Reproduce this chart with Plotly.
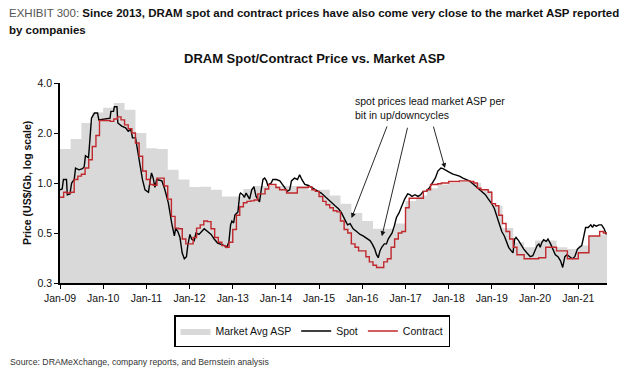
import math
import plotly.graph_objects as go
import pandas as pd

# ---------------- data ----------------
# Market average ASP (US$/Gb), quarterly, Q1'09 .. Q3'21
asp_start = "2009Q1"
asp_values = [
    1.60, 1.84, 2.30, 2.66,
    2.84, 3.03, 2.76, 2.00,
    1.62, 1.60, 1.20, 1.05,
    0.945, 0.95, 0.91, 0.83,
    0.83, 0.92, 0.96, 0.96,
    0.96, 0.96, 0.96, 0.91,
    0.91, 0.84, 0.75, 0.66,
    0.59, 0.53, 0.53, 0.57,
    0.78, 0.84, 0.93, 0.98,
    1.00, 1.02, 1.00, 0.90,
    0.73, 0.535, 0.44, 0.41,
    0.45, 0.45, 0.41, 0.40,
    0.42, 0.48, 0.49,
]

# Contract price (US$/Gb), monthly, Jan-09 .. Aug-21
contract_start = "2009-01-01"
contract_values = [
    0.82, 0.88, 0.87, 0.88, 1.05, 1.10, 1.13, 1.23, 1.38, 1.66, 1.93, 2.38,
    2.38, 2.38, 2.35, 2.43, 2.50, 2.40, 2.24, 2.12, 2.00, 1.74, 1.45, 1.18,
    1.05, 0.98, 0.97, 1.07, 1.07, 0.96, 0.80, 0.63, 0.535, 0.53, 0.46, 0.43,
    0.43, 0.47, 0.535, 0.56, 0.59, 0.585, 0.53, 0.47, 0.44, 0.42, 0.41, 0.44,
    0.525, 0.64, 0.72, 0.76, 0.775, 0.78, 0.79, 0.86, 0.86, 0.92, 0.98, 0.98,
    0.94, 0.91, 0.91, 0.87, 0.87, 0.87, 0.94, 0.94, 0.94, 0.95, 0.91, 0.89,
    0.83, 0.775, 0.74, 0.71, 0.68, 0.67, 0.59, 0.525, 0.50, 0.43, 0.41, 0.39,
    0.39, 0.36, 0.335, 0.32, 0.31, 0.31, 0.335, 0.35, 0.41, 0.46, 0.50, 0.51,
    0.71, 0.81, 0.81, 0.81, 0.81, 0.89, 0.91, 0.98, 0.98, 0.99, 1.00, 1.00,
    1.02, 1.02, 1.02, 1.03, 1.03, 1.03, 1.02, 1.00, 0.93, 0.91, 0.91, 0.88,
    0.75, 0.73, 0.64, 0.57, 0.51, 0.46, 0.41, 0.37, 0.37, 0.35, 0.35, 0.35,
    0.35, 0.355, 0.355, 0.41, 0.41, 0.41, 0.39, 0.39, 0.39, 0.35, 0.35, 0.35,
    0.38, 0.38, 0.38, 0.48, 0.48, 0.48, 0.51, 0.50,
]

# Spot price (US$/Gb); time as decimal year
spot_time = [
    2009.00, 2009.05, 2009.08, 2009.15, 2009.17, 2009.23, 2009.27, 2009.33, 2009.36, 2009.44,
    2009.52, 2009.56, 2009.59, 2009.66, 2009.69, 2009.73, 2009.80, 2009.87, 2009.90, 2010.04,
    2010.16, 2010.18, 2010.24, 2010.26, 2010.32, 2010.34, 2010.43, 2010.52, 2010.58, 2010.64,
    2010.68, 2010.75, 2010.80, 2010.85, 2010.91, 2010.97, 2011.05, 2011.08, 2011.12, 2011.16,
    2011.20, 2011.24, 2011.36, 2011.43, 2011.51, 2011.59, 2011.63, 2011.65, 2011.68, 2011.73,
    2011.78, 2011.83, 2011.88, 2011.93, 2011.96, 2012.01, 2012.05, 2012.11, 2012.15, 2012.22,
    2012.34, 2012.42, 2012.50, 2012.57, 2012.65, 2012.81, 2012.86, 2012.91, 2012.95, 2012.98,
    2013.02, 2013.05, 2013.12, 2013.16, 2013.18, 2013.23, 2013.27, 2013.31, 2013.39, 2013.44,
    2013.49, 2013.54, 2013.62, 2013.66, 2013.70, 2013.74, 2013.78, 2013.81, 2013.89, 2013.93,
    2014.01, 2014.09, 2014.14, 2014.20, 2014.26, 2014.32, 2014.36, 2014.43, 2014.50, 2014.55,
    2014.60, 2014.67, 2014.74, 2014.82, 2014.90, 2014.98, 2015.05, 2015.13, 2015.21, 2015.29,
    2015.37, 2015.45, 2015.52, 2015.60, 2015.66, 2015.72, 2015.79, 2015.87, 2015.95, 2016.02,
    2016.10, 2016.18, 2016.23, 2016.29, 2016.33, 2016.37, 2016.41, 2016.45, 2016.51, 2016.56,
    2016.60, 2016.64, 2016.69, 2016.74, 2016.79, 2016.85, 2016.91, 2016.98, 2017.05, 2017.10,
    2017.15, 2017.22, 2017.29, 2017.35, 2017.41, 2017.48, 2017.56, 2017.64, 2017.69, 2017.75,
    2017.82, 2017.87, 2017.95, 2018.02, 2018.10, 2018.18, 2018.25, 2018.33, 2018.41, 2018.48,
    2018.56, 2018.64, 2018.72, 2018.77, 2018.85, 2018.92, 2019.00, 2019.06, 2019.12, 2019.17,
    2019.23, 2019.29, 2019.35, 2019.39, 2019.45, 2019.49, 2019.53, 2019.56, 2019.62, 2019.68,
    2019.74, 2019.81, 2019.89, 2019.95, 2019.99, 2020.05, 2020.09, 2020.12, 2020.16, 2020.20,
    2020.26, 2020.30, 2020.36, 2020.41, 2020.47, 2020.53, 2020.59, 2020.64, 2020.69, 2020.74,
    2020.80, 2020.86, 2020.92, 2020.98, 2021.03, 2021.08, 2021.13, 2021.17, 2021.23, 2021.29,
    2021.33, 2021.36, 2021.42, 2021.48, 2021.54, 2021.60, 2021.65,
]
spot_values = [
    0.91, 0.92, 1.05, 1.05, 0.85, 0.86, 1.00, 1.05, 1.23, 1.20,
    1.22, 1.25, 1.46, 1.42, 1.78, 2.46, 2.64, 2.64, 2.40, 2.42,
    2.46, 2.70, 2.70, 2.88, 2.88, 2.30, 2.20, 2.15, 2.05, 2.10,
    1.87, 1.87, 1.55, 1.26, 1.05, 0.91, 0.88, 1.00, 1.15, 1.07,
    0.94, 1.05, 1.03, 0.91, 0.76, 0.57, 0.50, 0.48, 0.535, 0.51,
    0.47, 0.38, 0.35, 0.36, 0.42, 0.49, 0.46, 0.45, 0.50, 0.49,
    0.53, 0.51, 0.49, 0.46, 0.435, 0.42, 0.41, 0.44, 0.56, 0.59,
    0.575, 0.64, 0.67, 0.85, 0.87, 0.85, 0.82, 0.87, 0.80, 0.91,
    0.95, 0.83, 0.77, 0.91, 1.05, 1.07, 1.03, 0.97, 1.00, 1.05,
    1.05, 1.03, 0.98, 0.94, 0.89, 0.91, 1.03, 1.07, 1.05, 1.12,
    1.05, 0.98, 0.97, 0.94, 0.91, 0.89, 0.87, 0.83, 0.80, 0.76,
    0.73, 0.70, 0.66, 0.60, 0.56, 0.57, 0.53, 0.51, 0.49, 0.48,
    0.465, 0.45, 0.43, 0.40, 0.37, 0.355, 0.39, 0.41, 0.43, 0.43,
    0.46, 0.48, 0.50, 0.55, 0.62, 0.66, 0.72, 0.80, 0.86, 0.85,
    0.83, 0.85, 0.83, 0.85, 0.89, 0.89, 0.94, 1.03, 1.07, 1.18,
    1.23, 1.22, 1.18, 1.16, 1.13, 1.12, 1.10, 1.07, 1.05, 1.03,
    0.99, 0.95, 0.91, 0.89, 0.85, 0.80, 0.75, 0.70, 0.62, 0.56,
    0.51, 0.48, 0.44, 0.41, 0.39, 0.38, 0.46, 0.47, 0.45, 0.42,
    0.40, 0.38, 0.36, 0.365, 0.39, 0.42, 0.43, 0.41, 0.44, 0.455,
    0.445, 0.46, 0.43, 0.40, 0.37, 0.36, 0.34, 0.31, 0.36, 0.37,
    0.36, 0.35, 0.36, 0.40, 0.41, 0.42, 0.48, 0.54, 0.54, 0.56,
    0.54, 0.56, 0.55, 0.56, 0.56, 0.53, 0.49,
]

# axis
y_tickvals = [0.25, 0.5, 1.0, 2.0, 4.0]
y_ticktext = ["0.3", "0.5", "1.0", "2.0", "4.0"]
x_tickyears = list(range(2009, 2022))
x_range = ["2009-01-01", "2021-09-01"]

# ---------------- helpers ----------------
def dec_to_date(t):
    y = int(t)
    start = pd.Timestamp(year=y, month=1, day=1)
    end = pd.Timestamp(year=y + 1, month=1, day=1)
    return start + (end - start) * (t - y)

asp_q = pd.period_range(asp_start, periods=len(asp_values), freq="Q")
asp_x = [p.start_time for p in asp_q] + [(asp_q[-1] + 1).start_time]
asp_y = asp_values + [asp_values[-1]]

con_m = pd.date_range(contract_start, periods=len(contract_values) + 1, freq="MS")
con_x = list(con_m)
con_y = contract_values + [contract_values[-1]]

spot_x = [dec_to_date(t) for t in spot_time]

FONT = "Liberation Sans, Arial, sans-serif"

fig = go.Figure()
fig.add_trace(go.Scatter(
    x=asp_x, y=asp_y, mode="lines", line=dict(width=0, shape="hv"),
    fill="tozeroy", fillcolor="#d9d9d9", name="Market Avg ASP", hoverinfo="skip"))
fig.add_trace(go.Scatter(
    x=spot_x, y=spot_values, mode="lines", line=dict(color="black", width=1.4),
    name="Spot"))
fig.add_trace(go.Scatter(
    x=con_x, y=con_y, mode="lines", line=dict(color="#c0282d", width=1.4, shape="hv"),
    name="Contract"))

# page body has an 8px margin: figure origin sits at screen (8, 8)
OFF = 8
W, H = 632, 368
L, R, T, B = 52, 33, 75, 93
pw, ph = W - L - R, H - T - B

def px(sx):
    return (sx - OFF - L) / pw

def py(sy):
    return (H - B - (sy - OFF)) / ph

annotations = [
    dict(x=px(7), y=py(13), xref="paper", yref="paper", xanchor="left", yanchor="middle",
         showarrow=False, align="left",
         text="<span style='color:#555'>EXHIBIT 300: </span><b>Since 2013, DRAM spot and contract prices have also come very close to the market ASP reported</b>",
         font=dict(family=FONT, size=11.5, color="#111")),
    dict(x=px(7), y=py(30), xref="paper", yref="paper", xanchor="left", yanchor="middle",
         showarrow=False, align="left", text="<b>by companies</b>",
         font=dict(family=FONT, size=11.5, color="#111")),
    dict(x=px(314), y=py(58), xref="paper", yref="paper", xanchor="center", yanchor="middle",
         showarrow=False, text="<b>DRAM Spot/Contract Price vs. Market ASP</b>",
         font=dict(family=FONT, size=13, color="#111")),
    dict(x=px(27), y=0.5, xref="paper", yref="paper", xanchor="center", yanchor="middle",
         showarrow=False, textangle=-90, text="<b>Price (US$/Gb, log scale)</b>",
         font=dict(family=FONT, size=10.5, color="#111")),
    dict(x=px(353), y=py(108.5), xref="paper", yref="paper", xanchor="left", yanchor="middle",
         showarrow=False, align="left",
         text="spot prices lead market ASP per<br>bit in up/downcycles",
         font=dict(family=FONT, size=10.5, color="#111")),
    dict(x=px(8), y=py(362), xref="paper", yref="paper", xanchor="left", yanchor="middle",
         showarrow=False, align="left",
         text="Source: DRAMeXchange, company reports, and Bernstein analysis",
         font=dict(family=FONT, size=8.7, color="#333")),
]

# arrows (head at data point, tail offset in pixels)
arrows = [
    ("2015-10-03", 0.616, 36, -93),
    ("2016-06-15", 0.478, 26, -110),
    ("2017-12-01", 1.23, -12, -43),
]
for ax_date, val, dx, dy in arrows:
    annotations.append(dict(
        x=ax_date, y=math.log10(val), xref="x", yref="y", text="", showarrow=True,
        arrowhead=2, arrowsize=1.1, arrowwidth=0.9, arrowcolor="#111",
        ax=dx, ay=dy, standoff=0))

fig.update_layout(
    width=W, height=H,
    margin=dict(l=L, r=R, t=T, b=B, pad=0),
    paper_bgcolor="white", plot_bgcolor="white",
    font=dict(family=FONT, size=10.5, color="#111"),
    showlegend=True,
    legend=dict(orientation="h", x=px(312), xanchor="center", y=py(315), yanchor="top",
                bordercolor="black", borderwidth=1.5, bgcolor="white",
                font=dict(family=FONT, size=10.5, color="#111"),
                traceorder="normal"),
    annotations=annotations,
)
fig.update_xaxes(
    type="date", range=x_range,
    tickvals=[f"{y}-01-01" for y in x_tickyears], tickformat="%b-%y",
    showline=True, linecolor="black", linewidth=2,
    ticks="outside", ticklen=4, tickcolor="black", tickwidth=1,
    showgrid=False, zeroline=False,
    tickfont=dict(family=FONT, size=10.5, color="#111"),
)
fig.update_yaxes(
    type="log", range=[math.log10(y_tickvals[0]), math.log10(y_tickvals[-1])],
    tickvals=y_tickvals, ticktext=y_ticktext,
    showline=True, linecolor="black", linewidth=1.5,
    ticks="outside", ticklen=4, tickcolor="black", tickwidth=1,
    showgrid=False, zeroline=False,
    tickfont=dict(family=FONT, size=10.5, color="#111"),
)

fig.write_html("out.html")
